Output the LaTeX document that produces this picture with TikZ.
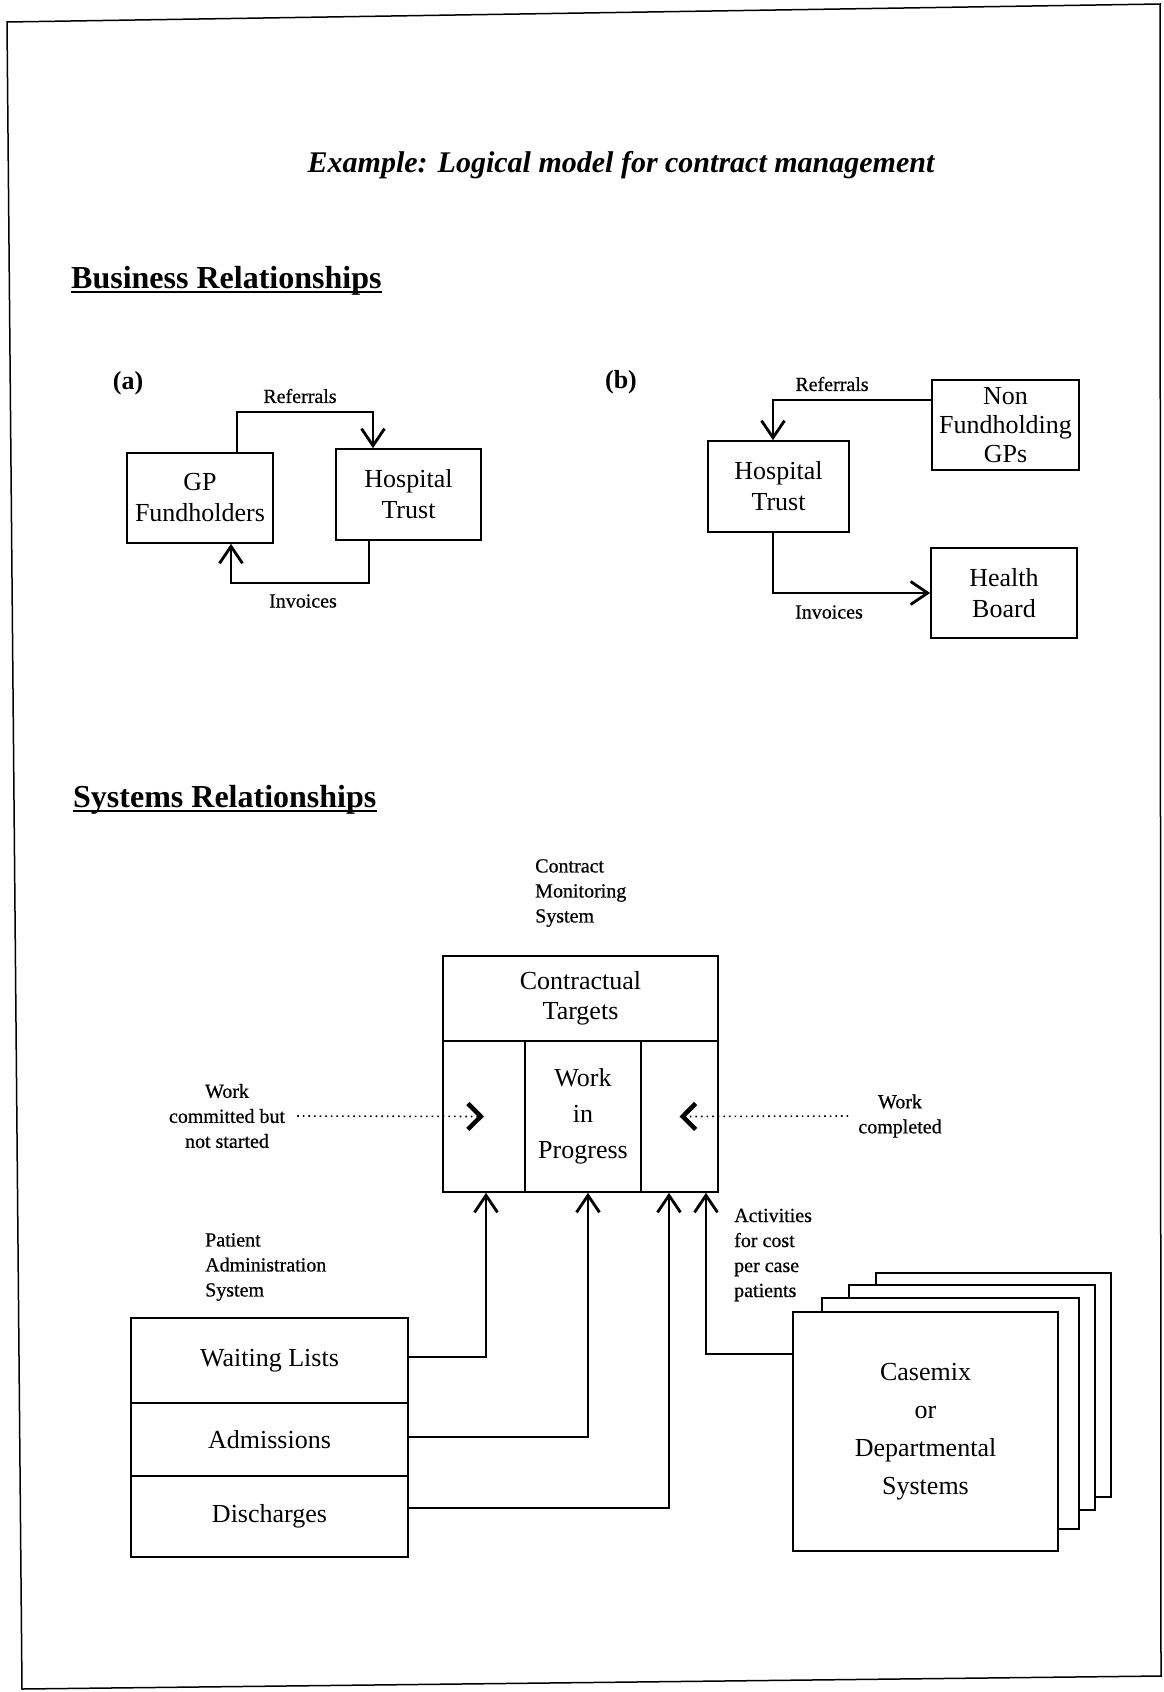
\documentclass[tikz,border=0pt]{standalone}
\usepackage{fontspec}
\setmainfont{Liberation Serif}
\newfontfamily\lblfont[FakeBold=0.6]{Liberation Serif}
\usetikzlibrary{arrows.meta,calc}
\begin{document}
\begin{tikzpicture}[x=1pt,y=-1pt,
  box/.style={draw, line width=1.7pt, inner sep=1pt, align=center, font=\fontsize{26}{31}\selectfont},
  cell/.style={draw, line width=1.7pt, inner sep=1pt, align=center, font=\fontsize{26}{36}\selectfont},
  page/.style={draw, line width=1.7pt, fill=white, inner sep=1pt, align=center, font=\fontsize{26}{38}\selectfont},
  lbl/.style={font=\lblfont\fontsize{20}{25}\selectfont, inner sep=0pt, align=center},
  lblL/.style={font=\lblfont\fontsize{20}{25}\selectfont, inner sep=0pt, align=left, anchor=west},
  heading/.style={font=\fontsize{32}{36}\selectfont\bfseries, inner sep=0pt, anchor=base west},
  conn/.style={line width=1.7pt},
  arr/.style={conn, -{Straight Barb[length=17pt,width=23pt,line width=2.8pt]}},
  dotarr/.style={line width=1.6pt, dash pattern=on 1.6pt off 4pt,
     -{Straight Barb[length=13pt,width=26pt,line width=4.5pt]}}
]
\useasboundingbox (0,0) rectangle (1163,1692);
% page frame
\draw[line width=1.5pt] (7,22) -- (1160,4) -- (1161,1676) -- (22,1689) -- cycle;

% title
\node[font=\fontsize{30}{34}\selectfont\bfseries\itshape, inner sep=0pt, anchor=base] (title) at (621,172)
  {Example: Logical model for contract management};

% headings
\node[heading] (br) at (71,288) {Business Relationships};
\draw[line width=1.8pt] ([yshift=-4pt]br.base west) -- ([yshift=-4pt]br.base east);
\node[heading] (sr) at (73,807) {Systems Relationships};
\draw[line width=1.8pt] ([yshift=-4pt]sr.base west) -- ([yshift=-4pt]sr.base east);

% (a)
\node[font=\fontsize{26}{30}\selectfont\bfseries, inner sep=0pt] (la) at (128,383) {(a)};
\node[box, minimum width=146, minimum height=90] (gp) at (200,498) {GP\\Fundholders};
\node[box, minimum width=145, minimum height=91] (hta) at (408.5,494.5) {Hospital\\Trust};
\coordinate (ra1) at (237,412);
\coordinate (ra2) at (373,412);
\draw[arr] (gp.north -| ra1) -- (ra1) -- (ra2) -- (ra2 |- hta.north);
\node[lbl] (refa) at (300,396) {Referrals};
\coordinate (ia1) at (369,583);
\coordinate (ia2) at (231,583);
\draw[arr] (hta.south -| ia1) -- (ia1) -- (ia2) -- (ia2 |- gp.south);
\node[lbl] (inva) at (303,601) {Invoices};

% (b)
\node[font=\fontsize{26}{30}\selectfont\bfseries, inner sep=0pt] (lb) at (621,382) {(b)};
\node[box, minimum width=147, minimum height=90, font=\fontsize{26}{29}\selectfont] (nf) at (1005.5,425) {Non\\Fundholding\\GPs};
\node[box, minimum width=141, minimum height=91] (htb) at (778.5,486.5) {Hospital\\Trust};
\node[box, minimum width=146, minimum height=90] (hb) at (1004,593) {Health\\Board};
\coordinate (rb1) at (773,400);
\draw[arr] (nf.west |- rb1) -- (rb1) -- (rb1 |- htb.north);
\node[lbl] (refb) at (832,384) {Referrals};
\coordinate (ib1) at (773,593);
\draw[arr] (htb.south -| ib1) -- (ib1) -- (hb.west);
\node[lbl] (invb) at (829,612) {Invoices};

% Contract monitoring system
\node[lblL] (cmsl) at (535,893) {Contract\\Monitoring\\System};
\node[cell, minimum width=275, minimum height=85, font=\fontsize{26}{30}\selectfont] (ct) at (580.5,998.5) {Contractual\\Targets};
\node[cell, minimum width=82, minimum height=151] (lc) at (484,1116.5) {};
\node[cell, minimum width=116, minimum height=151] (wip) at (583,1116.5) {Work\\in\\Progress};
\node[cell, minimum width=77, minimum height=151] (rc) at (679.5,1116.5) {};

\node[lbl] (wcb) at (227,1116) {Work\\committed but\\not started};
\node[lbl] (wc) at (900,1116) {Work\\completed};
\draw[dotarr] ([xshift=12pt]wcb.east) -- (lc.center);
\draw[dotarr] ([xshift=-10pt]wc.west) -- (rc.center);

% Patient administration system
\node[lblL] (pasl) at (205,1267) {Patient\\Administration\\System};
\node[cell, minimum width=277, minimum height=85] (wl) at (269.5,1360.5) {Waiting Lists};
\node[cell, minimum width=277, minimum height=73] (adm) at (269.5,1439.5) {Admissions};
\node[cell, minimum width=277, minimum height=81] (dis) at (269.5,1516.5) {Discharges};

% Casemix stack
\node[page, minimum width=235, minimum height=224] (cm4) at (993.5,1385) {};
\node[page, minimum width=246, minimum height=225] (cm3) at (972,1397.5) {};
\node[page, minimum width=257, minimum height=231] (cm2) at (950.5,1413.5) {};
\node[page, minimum width=265, minimum height=239] (cm) at (925.5,1431.5) {Casemix\\or\\Departmental\\Systems};

\node[lblL] (actl) at (734,1255) {Activities\\for cost\\per case\\patients};

% up arrows
\coordinate (u1) at (486,1357);
\coordinate (u2) at (588,1437);
\coordinate (u3) at (669,1508);
\coordinate (u4) at (706,1354);
\draw[arr] (wl.east |- u1) -- (u1) -- (u1 |- lc.south);
\draw[arr] (adm.east |- u2) -- (u2) -- (u2 |- wip.south);
\draw[arr] (dis.east |- u3) -- (u3) -- (u3 |- rc.south);
\draw[arr] (cm.west |- u4) -- (u4) -- (u4 |- rc.south);
\end{tikzpicture}
\end{document}
